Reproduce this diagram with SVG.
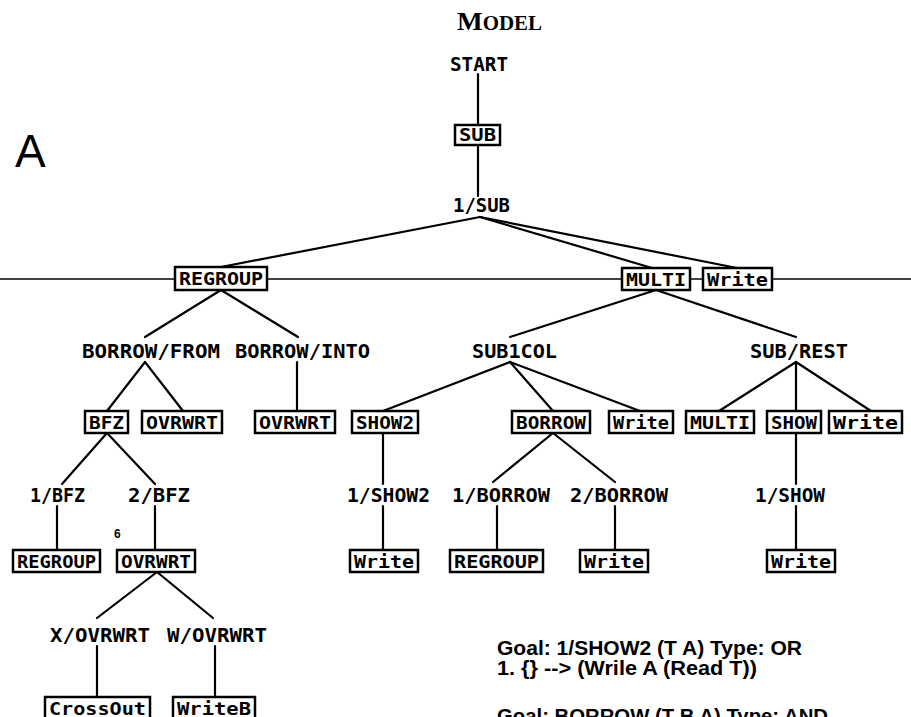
<svg xmlns="http://www.w3.org/2000/svg" width="911" height="717" viewBox="0 0 911 717">
<style>
.ln{stroke:#000;stroke-width:2.2;fill:none;stroke-linecap:round}
.scan{stroke:#000;stroke-width:1.4;fill:none}
.bx{fill:#fff;stroke:#000;stroke-width:2.5}
.lb{font-family:"DejaVu Sans Mono",monospace;font-weight:bold;font-size:20px;fill:#000}
.bt{font-family:"DejaVu Sans Mono",monospace;font-weight:bold;font-size:18px;fill:#000}
.gt{font-family:"Liberation Sans",Arial,sans-serif;font-weight:bold;font-size:20px;fill:#000}
</style>
<rect width="911" height="717" fill="#fff"/>
<g id="title">
<text x="457" y="30" font-family="Liberation Serif,serif" font-weight="bold" textLength="85" lengthAdjust="spacingAndGlyphs"><tspan font-size="26">M</tspan><tspan font-size="20">ODEL</tspan></text>
<text x="15" y="167" font-family="Liberation Sans,Arial,sans-serif" font-size="46">A</text>
<text x="114" y="538" font-family="Liberation Sans,Arial,sans-serif" font-weight="bold" font-size="12">6</text>
</g>
<g id="scanline">
<line class="scan" x1="0" y1="279" x2="911" y2="279"/>
</g>
<g id="connectors">
<line class="ln" x1="478" y1="74" x2="478" y2="125"/>
<line class="ln" x1="478" y1="145" x2="478" y2="196"/>
<line class="ln" x1="480" y1="217" x2="221" y2="267"/>
<line class="ln" x1="480" y1="217" x2="652" y2="268"/>
<line class="ln" x1="480" y1="217" x2="737" y2="268"/>
<line class="ln" x1="221" y1="290" x2="145" y2="337"/>
<line class="ln" x1="221" y1="290" x2="298" y2="337"/>
<line class="ln" x1="656" y1="290" x2="510" y2="337"/>
<line class="ln" x1="656" y1="290" x2="796" y2="337"/>
<line class="ln" x1="145" y1="362" x2="107" y2="411"/>
<line class="ln" x1="145" y1="362" x2="183" y2="411"/>
<line class="ln" x1="297" y1="362" x2="297" y2="411"/>
<line class="ln" x1="510" y1="362" x2="383" y2="411"/>
<line class="ln" x1="510" y1="362" x2="553" y2="411"/>
<line class="ln" x1="510" y1="362" x2="640" y2="411"/>
<line class="ln" x1="796" y1="362" x2="719" y2="411"/>
<line class="ln" x1="796" y1="362" x2="796" y2="411"/>
<line class="ln" x1="796" y1="362" x2="871" y2="411"/>
<line class="ln" x1="107" y1="433" x2="62" y2="484"/>
<line class="ln" x1="107" y1="433" x2="155" y2="484"/>
<line class="ln" x1="383" y1="433" x2="383" y2="484"/>
<line class="ln" x1="553" y1="433" x2="493" y2="482"/>
<line class="ln" x1="553" y1="433" x2="615" y2="482"/>
<line class="ln" x1="796" y1="433" x2="796" y2="484"/>
<line class="ln" x1="57" y1="506" x2="57" y2="550"/>
<line class="ln" x1="155" y1="506" x2="155" y2="550"/>
<line class="ln" x1="383" y1="506" x2="383" y2="550"/>
<line class="ln" x1="497" y1="506" x2="497" y2="550"/>
<line class="ln" x1="615" y1="506" x2="615" y2="550"/>
<line class="ln" x1="796" y1="506" x2="796" y2="550"/>
<line class="ln" x1="157" y1="572" x2="97" y2="618"/>
<line class="ln" x1="157" y1="572" x2="213" y2="618"/>
<line class="ln" x1="97" y1="646" x2="97" y2="697"/>
<line class="ln" x1="215" y1="646" x2="215" y2="697"/>
</g>
<g id="start"><text class="lb" x="450" y="71" textLength="58" lengthAdjust="spacingAndGlyphs">START</text></g>
<g id="n-sub"><rect class="bx" x="455" y="125" width="45" height="20"/><text class="bt" x="459" y="141" textLength="37" lengthAdjust="spacingAndGlyphs">SUB</text></g>
<g id="o-1sub"><text class="lb" x="453" y="212" textLength="57" lengthAdjust="spacingAndGlyphs">1/SUB</text></g>
<g id="n-regroup1"><rect class="bx" x="175" y="267" width="92" height="23"/><text class="bt" x="179" y="285" textLength="84" lengthAdjust="spacingAndGlyphs">REGROUP</text></g>
<g id="n-multi1"><rect class="bx" x="622" y="268" width="68" height="22"/><text class="bt" x="626" y="285.5" textLength="60" lengthAdjust="spacingAndGlyphs">MULTI</text></g>
<g id="n-write1"><rect class="bx" x="703" y="268" width="69" height="22"/><text class="bt" x="707" y="285.5" textLength="61" lengthAdjust="spacingAndGlyphs">Write</text></g>
<g id="o-borrowfrom"><text class="lb" x="82" y="358" textLength="138" lengthAdjust="spacingAndGlyphs">BORROW/FROM</text></g>
<g id="o-borrowinto"><text class="lb" x="235" y="358" textLength="135" lengthAdjust="spacingAndGlyphs">BORROW/INTO</text></g>
<g id="o-sub1col"><text class="lb" x="472" y="358" textLength="85" lengthAdjust="spacingAndGlyphs">SUB1COL</text></g>
<g id="o-subrest"><text class="lb" x="750" y="358" textLength="98" lengthAdjust="spacingAndGlyphs">SUB/REST</text></g>
<g id="n-bfz"><rect class="bx" x="85" y="411" width="43" height="22"/><text class="bt" x="89" y="428.5" textLength="35" lengthAdjust="spacingAndGlyphs">BFZ</text></g>
<g id="n-ovrwrt1"><rect class="bx" x="142" y="411" width="80" height="22"/><text class="bt" x="146" y="428.5" textLength="72" lengthAdjust="spacingAndGlyphs">OVRWRT</text></g>
<g id="n-ovrwrt2"><rect class="bx" x="255" y="411" width="80" height="22"/><text class="bt" x="259" y="428.5" textLength="72" lengthAdjust="spacingAndGlyphs">OVRWRT</text></g>
<g id="n-show2"><rect class="bx" x="352" y="411" width="66" height="22"/><text class="bt" x="356" y="428.5" textLength="58" lengthAdjust="spacingAndGlyphs">SHOW2</text></g>
<g id="n-borrow"><rect class="bx" x="512" y="411" width="78" height="22"/><text class="bt" x="516" y="428.5" textLength="70" lengthAdjust="spacingAndGlyphs">BORROW</text></g>
<g id="n-write2"><rect class="bx" x="609" y="411" width="64" height="22"/><text class="bt" x="613" y="428.5" textLength="56" lengthAdjust="spacingAndGlyphs">Write</text></g>
<g id="n-multi2"><rect class="bx" x="686" y="411" width="68" height="22"/><text class="bt" x="690" y="428.5" textLength="60" lengthAdjust="spacingAndGlyphs">MULTI</text></g>
<g id="n-show"><rect class="bx" x="767" y="411" width="54" height="22"/><text class="bt" x="771" y="428.5" textLength="46" lengthAdjust="spacingAndGlyphs">SHOW</text></g>
<g id="n-write3"><rect class="bx" x="829" y="411" width="73" height="22"/><text class="bt" x="833" y="428.5" textLength="65" lengthAdjust="spacingAndGlyphs">Write</text></g>
<g id="o-1bfz"><text class="lb" x="30" y="502" textLength="55" lengthAdjust="spacingAndGlyphs">1/BFZ</text></g>
<g id="o-2bfz"><text class="lb" x="128" y="502" textLength="62" lengthAdjust="spacingAndGlyphs">2/BFZ</text></g>
<g id="o-1show2"><text class="lb" x="347" y="502" textLength="83" lengthAdjust="spacingAndGlyphs">1/SHOW2</text></g>
<g id="o-1borrow"><text class="lb" x="452" y="502" textLength="98" lengthAdjust="spacingAndGlyphs">1/BORROW</text></g>
<g id="o-2borrow"><text class="lb" x="570" y="502" textLength="98" lengthAdjust="spacingAndGlyphs">2/BORROW</text></g>
<g id="o-1show"><text class="lb" x="755" y="502" textLength="70" lengthAdjust="spacingAndGlyphs">1/SHOW</text></g>
<g id="n-regroup2"><rect class="bx" x="13" y="550" width="87" height="22"/><text class="bt" x="17" y="567.5" textLength="79" lengthAdjust="spacingAndGlyphs">REGROUP</text></g>
<g id="n-ovrwrt3"><rect class="bx" x="117" y="550" width="78" height="22"/><text class="bt" x="121" y="567.5" textLength="70" lengthAdjust="spacingAndGlyphs">OVRWRT</text></g>
<g id="n-write4"><rect class="bx" x="350" y="550" width="68" height="22"/><text class="bt" x="354" y="567.5" textLength="60" lengthAdjust="spacingAndGlyphs">Write</text></g>
<g id="n-regroup3"><rect class="bx" x="450" y="550" width="93" height="22"/><text class="bt" x="454" y="567.5" textLength="85" lengthAdjust="spacingAndGlyphs">REGROUP</text></g>
<g id="n-write5"><rect class="bx" x="580" y="550" width="68" height="22"/><text class="bt" x="584" y="567.5" textLength="60" lengthAdjust="spacingAndGlyphs">Write</text></g>
<g id="n-write6"><rect class="bx" x="767" y="550" width="68" height="22"/><text class="bt" x="771" y="567.5" textLength="60" lengthAdjust="spacingAndGlyphs">Write</text></g>
<g id="o-xovrwrt"><text class="lb" x="50" y="642" textLength="100" lengthAdjust="spacingAndGlyphs">X/OVRWRT</text></g>
<g id="o-wovrwrt"><text class="lb" x="167" y="642" textLength="100" lengthAdjust="spacingAndGlyphs">W/OVRWRT</text></g>
<g id="n-crossout"><rect class="bx" x="45" y="697" width="105" height="22"/><text class="bt" x="49" y="714.5" textLength="97" lengthAdjust="spacingAndGlyphs">CrossOut</text></g>
<g id="n-writeb"><rect class="bx" x="173" y="697" width="82" height="22"/><text class="bt" x="177" y="714.5" textLength="74" lengthAdjust="spacingAndGlyphs">WriteB</text></g>
<g id="goals">
<text class="gt" x="497" y="655" textLength="305" lengthAdjust="spacingAndGlyphs">Goal: 1/SHOW2 (T A)  Type: OR</text>
<text class="gt" x="497" y="675" textLength="260" lengthAdjust="spacingAndGlyphs">1.  {} --&gt; (Wrile A (Read T))</text>
<text class="gt" x="497" y="723" textLength="331" lengthAdjust="spacingAndGlyphs">Goal: BORROW (T B A)  Type: AND</text>
</g>
</svg>
